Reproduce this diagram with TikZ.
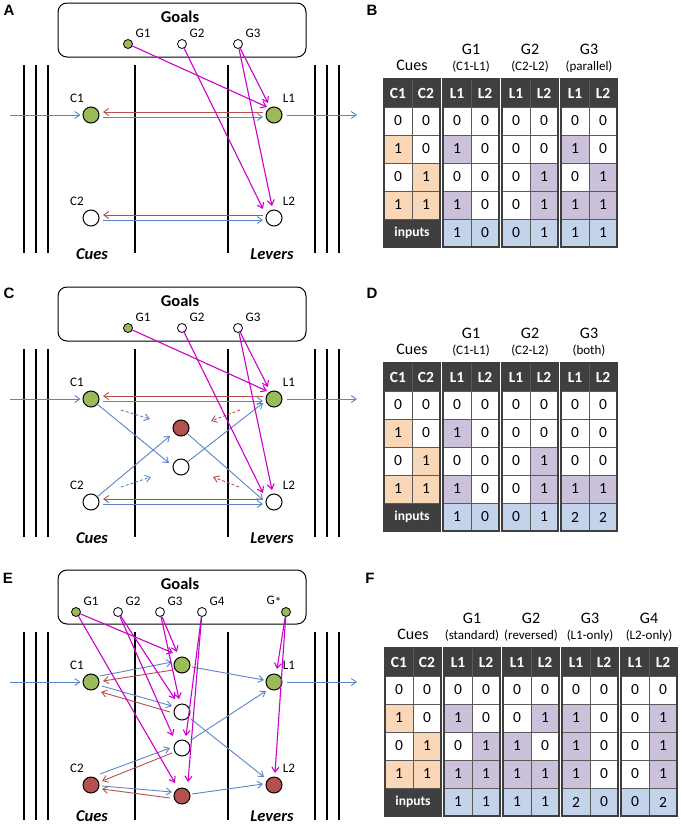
\documentclass[tikz,border=0pt]{standalone}
\usepackage{fontspec}
\setmainfont{Carlito}
\newfontfamily\letterfont{Liberation Sans}
\usetikzlibrary{arrows.meta,calc}

\definecolor{ngreen}{HTML}{9BBB59}
\definecolor{nred}{HTML}{B4514E}
\definecolor{ablue}{HTML}{5B85C8}
\definecolor{ared}{HTML}{B5504C}
\definecolor{amag}{HTML}{CC00CC}
\definecolor{hdgray}{HTML}{3F3F3F}
\definecolor{cw}{HTML}{FFFFFF}
\definecolor{co}{HTML}{FAD7B7}
\definecolor{cv}{HTML}{CCC1DA}
\definecolor{cb}{HTML}{C3D3EA}
\definecolor{cellline}{HTML}{5A5A5A}

\newcommand{\fs}[1]{\fontsize{#1}{#1}\selectfont}

\tikzset{
  vline/.style={line width=1.8pt},
  goalbox/.style={draw, line width=1pt, rounded corners=9pt, minimum width=248pt, minimum height=54pt, inner sep=0pt},
  bigunit/.style={circle, draw, line width=1pt, minimum size=16pt, inner sep=0pt},
  gunit/.style={circle, draw, line width=0.8pt, minimum size=9pt, inner sep=0pt},
  lbl/.style={font=\fs{13}, inner sep=0pt},
  arrtip/.style={-{Straight Barb[length=5pt,width=7pt]}},
  barr/.style={draw=ablue, line width=0.9pt, arrtip},
  rarr/.style={draw=ared, line width=0.9pt, arrtip},
  marr/.style={draw=amag, line width=1.1pt, arrtip},
  darr/.style={dash pattern=on 3pt off 2pt},
  goalstitle/.style={font=\bfseries\fs{16.5}, inner sep=0pt},
  bigital/.style={font=\bfseries\itshape\fs{16.5}, inner sep=0pt},
  plabel/.style={font=\letterfont\bfseries\fs{15}, inner sep=0pt},
  tcell/.style={draw=cellline, line width=0.8pt, minimum width=28pt, minimum height=28pt, inner sep=0pt, font=\fs{15.5}},
  hd/.style={fill=hdgray, text=white, font=\bfseries\fs{15.5}},
  grp/.style={draw=hdgray, line width=1.3pt},
  ttitle/.style={font=\fs{16}, inner sep=0pt},
  tsub/.style={font=\fs{13}, inner sep=0pt},
}

% ---------- diagram macros ----------
\newcommand{\panelframe}[3]{%
  \foreach \xx in {24,36,48,135,228,315,327,339}
    \draw[vline] (\xx,65+#2) -- (\xx,253+#2);
  \node[goalbox] (#1box) at (182,30+#2) {};
  \node[goalstitle] (#1goals) at (180,17+#2) {Goals};
  \node[bigital] (#1cues) at (92,#3+#2) {Cues};
  \node[bigital] (#1levers) at (272,#3+#2) {Levers};
  \coordinate (#1in) at (10,115+#2);
  \coordinate (#1out) at (357,115+#2);
}
\newcommand{\cueslevers}[6]{%
  \node[bigunit,#3] (#1C1) at (91,115+#2) {};
  \node[bigunit,#4] (#1C2) at (91,218+#2) {};
  \node[bigunit,#5] (#1L1) at (274,115+#2) {};
  \node[bigunit,#6] (#1L2) at (274,218+#2) {};
  \node[lbl] (#1C1l) at (77,98+#2) {C1};
  \node[lbl] (#1C2l) at (77,201+#2) {C2};
  \node[lbl] (#1L1l) at (289,98+#2) {L1};
  \node[lbl] (#1L2l) at (289,201+#2) {L2};
}
\newcommand{\goalsthree}[2]{%
  \node[gunit,fill=ngreen] (#1G1) at (128,44+#2) {};
  \node[gunit,fill=white] (#1G2) at (182,44+#2) {};
  \node[gunit,fill=white] (#1G3) at (238,44+#2) {};
  \node[lbl] (#1G1l) at (143,33+#2) {G1};
  \node[lbl] (#1G2l) at (197,33+#2) {G2};
  \node[lbl] (#1G3l) at (253,33+#2) {G3};
}
\newcommand{\iodraw}[1]{%
  \draw[barr, shorten >=2pt] (#1in) -- (#1C1);
  \draw[barr, shorten <=4pt] (#1L1) -- (#1out);
}
\newcommand{\hpairs}[1]{%
  \draw[rarr] ($(#1L1)+(-11,-3)$) -- ($(#1C1)+(12,-3)$);
  \draw[barr] ($(#1C1)+(12,2)$) -- ($(#1L1)+(-11,2)$);
  \draw[rarr] ($(#1L2)+(-11,-3)$) -- ($(#1C2)+(12,-3)$);
  \draw[barr] ($(#1C2)+(12,2)$) -- ($(#1L2)+(-11,2)$);
}
\newcommand{\magAC}[1]{%
  \draw[marr] (#1G1) -- ($(#1L1)+(-7,-8)$);
  \draw[marr] (#1G2) -- ($(#1L2)+(-11,-9)$);
  \draw[marr] (#1G3) -- ($(#1L1)+(-6,-12)$);
  \draw[marr] (#1G3) -- ($(#1L2)+(-2,-12)$);
}

% ---------- table macros ----------
\newcommand{\trow}[6]{%
  \foreach \fc/\val [count=\c from #5] in {#6} {
    \pgfmathsetmacro{\xc}{#2 + int((\c-1)/2)*59 + mod(\c-1,2)*28 + 14}
    \pgfmathsetmacro{\yc}{#3 + #4*28 + 14}
    \node[tcell, fill=\fc] (#1r#4c\c) at (\xc,\yc) {\val};
  }}
\newcommand{\theader}[4]{%
  \pgfmathtruncatemacro{\ncol}{2*#4+2}
  \foreach \c in {1,...,\ncol} {
    \pgfmathsetmacro{\xc}{#2 + int((\c-1)/2)*59 + mod(\c-1,2)*28 + 14}
    \pgfmathtruncatemacro{\isodd}{mod(\c,2)}
    \pgfmathtruncatemacro{\isfirst}{\c<3 ? 1 : 0}
    \ifnum\isfirst=1
      \node[tcell,hd] (#1r0c\c) at (\xc,#3+14) {C\ifnum\isodd=1 1\else 2\fi};
    \else
      \node[tcell,hd] (#1r0c\c) at (\xc,#3+14) {L\ifnum\isodd=1 1\else 2\fi};
    \fi
  }
  \node[tcell,hd,minimum width=56pt,font=\bfseries\fs{13.5}] (#1inputs) at (#2+28,#3+5*28+14) {inputs};
}
\newcommand{\tframes}[4]{%
  \pgfmathtruncatemacro{\ng}{#4}
  \foreach \g in {0,...,\ng}
    \draw[grp] (#2+\g*59,#3) rectangle +(56,168);
  \node[ttitle] (#1cuestitle) at (#2+28,#3-14) {Cues};
}
\newcommand{\gtitle}[5]{%
  \node[ttitle] (#1g#4) at (#2+#4*59+28,#3-30) {G#4};
  \node[tsub] (#1s#4) at (#2+#4*59+28,#3-12) {#5};
}

\begin{document}
\begin{tikzpicture}[x=1pt,y=-1pt]
\useasboundingbox (0,0) rectangle (680,827);
\fill[white] (0,0) rectangle (680,827);

% panel letters
\node[plabel] (lA) at (9,10) {A};
\node[plabel] (lB) at (372,10) {B};
\node[plabel] (lC) at (9,293) {C};
\node[plabel] (lD) at (372,293) {D};
\node[plabel] (lE) at (8,578) {E};
\node[plabel] (lF) at (370,578) {F};

% ================= Panel A =================
\panelframe{a}{0}{254}
\goalsthree{a}{0}
\cueslevers{a}{0}{fill=ngreen}{fill=white}{fill=ngreen}{fill=white}
\iodraw{a}
\hpairs{a}
\magAC{a}

% ================= Panel C =================
\panelframe{c}{284}{254}
\goalsthree{c}{284}
\cueslevers{c}{284}{fill=ngreen}{fill=white}{fill=ngreen}{fill=white}
\node[bigunit,fill=nred] (cR) at (181,428) {};
\node[bigunit,fill=white] (cW) at (181,467) {};
\iodraw{c}
\hpairs{c}
\draw[barr] (cC1) -- ($(cW)+(-12,-4)$);
\draw[barr] (cC2) -- ($(cR)+(-11,8)$);
\draw[barr] (cW) -- ($(cL1)+(-11,4)$);
\draw[barr] (cR) -- ($(cL2)+(-11,-2)$);
\coordinate (cdb1s) at (121,410);
\coordinate (cdb1e) at (150,419);
\coordinate (cdb2s) at (121,487);
\coordinate (cdb2e) at (151,477);
\coordinate (cdr1s) at (240,410);
\coordinate (cdr1e) at (211,421);
\coordinate (cdr2s) at (239,487);
\coordinate (cdr2e) at (213,477);
\draw[barr,darr] (cdb1s) -- (cdb1e);
\draw[barr,darr] (cdb2s) -- (cdb2e);
\draw[rarr,darr] (cdr1s) -- (cdr1e);
\draw[rarr,darr] (cdr2s) -- (cdr2e);
\magAC{c}

% ================= Panel E =================
\panelframe{e}{567}{249}
\cueslevers{e}{567}{fill=ngreen}{fill=nred}{fill=ngreen}{fill=nred}
\node[bigunit,fill=ngreen] (eM1) at (182,665) {};
\node[bigunit,fill=white] (eM2) at (182,712) {};
\node[bigunit,fill=white] (eM3) at (182,748) {};
\node[bigunit,fill=nred] (eM4) at (182,796) {};
\node[gunit,fill=ngreen] (eG1) at (76,612) {};
\node[gunit,fill=white] (eG2) at (118,612) {};
\node[gunit,fill=white] (eG3) at (160,612) {};
\node[gunit,fill=white] (eG4) at (202,612) {};
\node[gunit,fill=ngreen] (eGs) at (286,612) {};
\node[lbl] (eG1l) at (91,601) {G1};
\node[lbl] (eG2l) at (133,601) {G2};
\node[lbl] (eG3l) at (175,601) {G3};
\node[lbl] (eG4l) at (217,601) {G4};
\node[lbl] (eGsl) at (274,601) {G\raisebox{-2pt}{*}};
\iodraw{e}
% cue <-> middle
\draw[barr] ($(eC1)+(9,-6)$) -- ($(eM1)+(-10,-3)$);
\draw[rarr] ($(eM1)+(-9,5)$) -- ($(eC1)+(12,-1)$);
\draw[barr] ($(eC1)+(11,4)$) -- ($(eM2)+(-10,-6)$);
\draw[rarr] ($(eM2)+(-12,0)$) -- ($(eC1)+(10,10)$);
\draw[barr] ($(eC2)+(9,-11)$) -- ($(eM3)+(-12,0)$);
\draw[rarr] ($(eM3)+(-10,5)$) -- ($(eC2)+(11,-4)$);
\draw[barr] ($(eC2)+(11,1)$) -- ($(eM4)+(-10,-4)$);
\draw[rarr] ($(eM4)+(-12,2)$) -- ($(eC2)+(11,4)$);
% middle -> levers
\draw[barr] ($(eM1)+(10,2)$) -- ($(eL1)+(-10,-2)$);
\draw[barr] ($(eM3)+(9,-8)$) -- ($(eL1)+(-8,9)$);
\draw[barr] ($(eM2)+(9,7)$) -- ($(eL2)+(-10,-8)$);
\draw[barr] ($(eM4)+(10,-2)$) -- ($(eL2)+(-11,-1)$);
% goals
\draw[marr] (eG1) -- ($(eM1)+(-9,-12)$);
\draw[marr] (eG1) -- ($(eM4)+(-7,-13)$);
\draw[marr] (eG2) -- ($(eM2)+(-7,-13)$);
\draw[marr] (eG2) -- ($(eM3)+(-9,-12)$);
\draw[marr] (eG3) -- ($(eM1)+(-5,-13)$);
\draw[marr] (eG3) -- ($(eM2)+(-3,-13)$);
\draw[marr] (eG4) -- ($(eM3)+(4,-12)$);
\draw[marr] (eG4) -- ($(eM4)+(6,-14)$);
\draw[marr] (eGs) -- ($(eL1)+(3,-13)$);
\draw[marr] (eGs) -- ($(eL2)+(1,-12)$);

% ================= Table B =================
\theader{B}{384}{79}{3}
\trow{B}{384}{79}{1}{1}{cw/0,cw/0,cw/0,cw/0,cw/0,cw/0,cw/0,cw/0}
\trow{B}{384}{79}{2}{1}{co/1,cw/0,cv/1,cw/0,cw/0,cw/0,cv/1,cw/0}
\trow{B}{384}{79}{3}{1}{cw/0,co/1,cw/0,cw/0,cw/0,cv/1,cw/0,cv/1}
\trow{B}{384}{79}{4}{1}{co/1,co/1,cv/1,cw/0,cw/0,cv/1,cv/1,cv/1}
\trow{B}{384}{79}{5}{3}{cb/1,cb/0,cb/0,cb/1,cb/1,cb/1}
\tframes{B}{384}{79}{3}
\gtitle{B}{384}{79}{1}{(C1-L1)}
\gtitle{B}{384}{79}{2}{(C2-L2)}
\gtitle{B}{384}{79}{3}{(parallel)}

% ================= Table D =================
\theader{D}{384}{363}{3}
\trow{D}{384}{363}{1}{1}{cw/0,cw/0,cw/0,cw/0,cw/0,cw/0,cw/0,cw/0}
\trow{D}{384}{363}{2}{1}{co/1,cw/0,cv/1,cw/0,cw/0,cw/0,cw/0,cw/0}
\trow{D}{384}{363}{3}{1}{cw/0,co/1,cw/0,cw/0,cw/0,cv/1,cw/0,cw/0}
\trow{D}{384}{363}{4}{1}{co/1,co/1,cv/1,cw/0,cw/0,cv/1,cv/1,cv/1}
\trow{D}{384}{363}{5}{3}{cb/1,cb/0,cb/0,cb/1,cb/2,cb/2}
\tframes{D}{384}{363}{3}
\gtitle{D}{384}{363}{1}{(C1-L1)}
\gtitle{D}{384}{363}{2}{(C2-L2)}
\gtitle{D}{384}{363}{3}{(both)}

% ================= Table F =================
\theader{F}{385}{648}{4}
\trow{F}{385}{648}{1}{1}{cw/0,cw/0,cw/0,cw/0,cw/0,cw/0,cw/0,cw/0,cw/0,cw/0}
\trow{F}{385}{648}{2}{1}{co/1,cw/0,cv/1,cw/0,cw/0,cv/1,cv/1,cw/0,cw/0,cv/1}
\trow{F}{385}{648}{3}{1}{cw/0,co/1,cw/0,cv/1,cv/1,cw/0,cv/1,cw/0,cw/0,cv/1}
\trow{F}{385}{648}{4}{1}{co/1,co/1,cv/1,cv/1,cv/1,cv/1,cv/1,cw/0,cw/0,cv/1}
\trow{F}{385}{648}{5}{3}{cb/1,cb/1,cb/1,cb/1,cb/2,cb/0,cb/0,cb/2}
\tframes{F}{385}{648}{4}
\gtitle{F}{385}{648}{1}{(standard)}
\gtitle{F}{385}{648}{2}{(reversed)}
\gtitle{F}{385}{648}{3}{(L1-only)}
\gtitle{F}{385}{648}{4}{(L2-only)}

\end{tikzpicture}
\end{document}
